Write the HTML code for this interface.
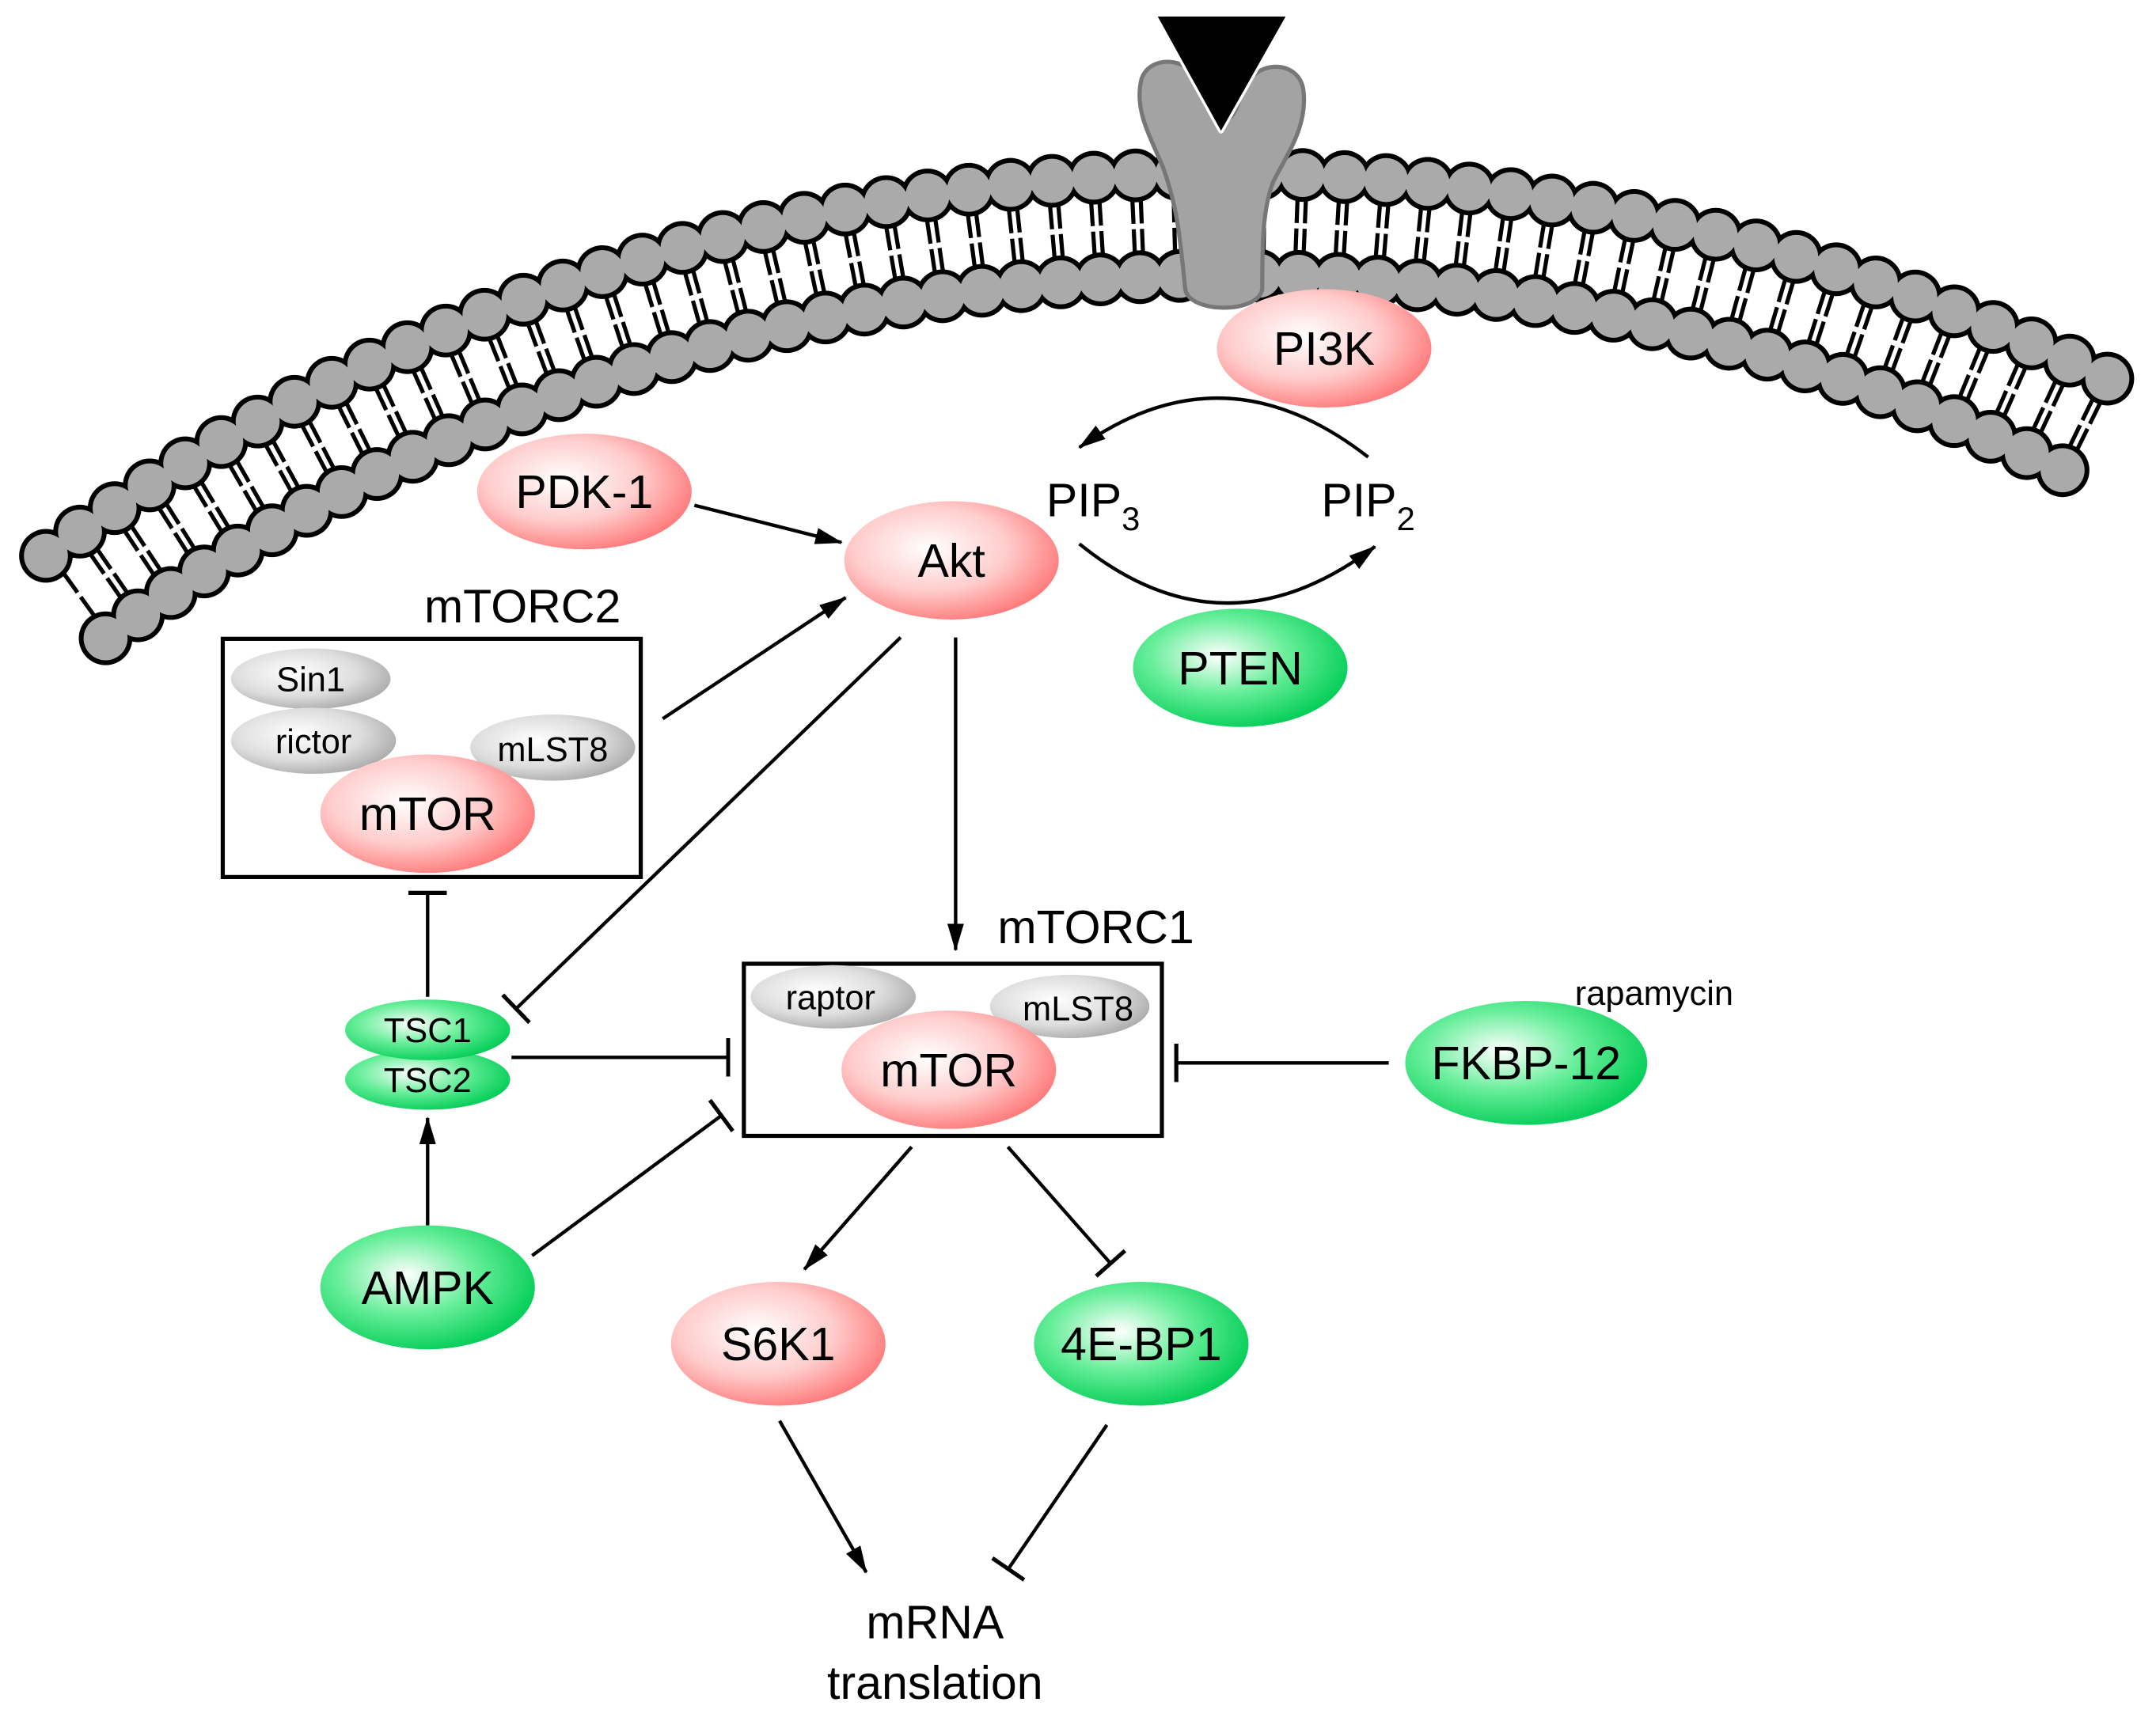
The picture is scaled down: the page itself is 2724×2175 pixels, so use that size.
<!DOCTYPE html>
<html><head><meta charset="utf-8"><style>html,body{margin:0;padding:0;background:#fff}svg{display:block}text{font-family:"Liberation Sans",Arial,sans-serif;fill:#000}</style></head>
<body>
<svg width="2724" height="2175" viewBox="0 0 1568 1250" preserveAspectRatio="none" xmlns="http://www.w3.org/2000/svg">
<defs>
<radialGradient id="rg" cx="0.4" cy="0.4" r="0.65"><stop offset="0" stop-color="#fff"/><stop offset="0.55" stop-color="#fcc"/><stop offset="1" stop-color="#f77"/></radialGradient>
<radialGradient id="gg" cx="0.4" cy="0.4" r="0.65"><stop offset="0" stop-color="#fff"/><stop offset="0.5" stop-color="#6e9"/><stop offset="1" stop-color="#0c5"/></radialGradient>
<radialGradient id="yg" cx="0.4" cy="0.4" r="0.65"><stop offset="0" stop-color="#fff"/><stop offset="0.6" stop-color="#ddd"/><stop offset="1" stop-color="#aaa"/></radialGradient>
<marker id="a" viewBox="0 0 20 12" refX="19" refY="6" markerWidth="20" markerHeight="12" markerUnits="userSpaceOnUse" orient="auto"><path d="M0,0 L20,6 L0,12 z" fill="#000"/></marker>
<marker id="b" viewBox="0 0 4 28" refX="2" refY="14" markerWidth="4" markerHeight="28" markerUnits="userSpaceOnUse" orient="auto"><rect x="0" y="0" width="3" height="28" fill="#000"/></marker>
</defs>
<!-- membrane -->
<g fill="none" transform="translate(0,6)">
<path d="M55.1,427.7 A1423,1423 0 0 1 1528.1,308.1" stroke="#000" stroke-width="42" stroke-dasharray="3 3 3 20.63" stroke-dashoffset="4.5"/>
<path d="M55.1,427.7 A1423,1423 0 0 1 1528.1,308.1" stroke="#fff" stroke-width="4"/>
<path d="M33.4,397.7 A1460,1460 0 0 1 1544.7,275" stroke="#000" stroke-width="39" stroke-linecap="round" stroke-dasharray="0 30.4"/>
<path d="M33.4,397.7 A1460,1460 0 0 1 1544.7,275" stroke="#aaa" stroke-width="32" stroke-linecap="round" stroke-dasharray="0 30.4"/>
<path d="M76.8,457.6 A1386,1386 0 0 1 1511.5,341.2" stroke="#000" stroke-width="39" stroke-linecap="round" stroke-dasharray="0 28.86"/>
<path d="M76.8,457.6 A1386,1386 0 0 1 1511.5,341.2" stroke="#aaa" stroke-width="32" stroke-linecap="round" stroke-dasharray="0 28.86"/>
</g>
<!-- receptor -->
<path d="M862,210 C858,170 856,150 846,122 C836,98 825,80 830,58 C836,38 870,40 878,70 C882,92 896,95 902,70 C910,42 945,42 948,66 C951,92 936,112 926,132 C918,152 918,180 918,210 C915,228 865,228 862,210 Z" fill="#a3a3a3" stroke="#777" stroke-width="3"/>
<path d="M842,12 L935,12 L888,95 Z" fill="#000" stroke="#fff" stroke-width="4" stroke-linejoin="round"/>
<path d="M842,12 L935,12 L888,95 Z" fill="#000"/>
<g stroke="#000" stroke-width="2.5" fill="none">
<line x1="505" y1="367" x2="612" y2="394" marker-end="url(#a)"/>
<line x1="482" y1="522" x2="615" y2="434" marker-end="url(#a)"/>
<line x1="695" y1="463" x2="695" y2="690" marker-end="url(#a)"/>
<line x1="655" y1="463" x2="375" y2="733" marker-end="url(#b)"/>
<line x1="311" y1="724" x2="311" y2="648" marker-end="url(#b)"/>
<line x1="372" y1="768" x2="530" y2="768" marker-end="url(#b)"/>
<line x1="311" y1="890" x2="311" y2="812" marker-end="url(#a)"/>
<line x1="387" y1="912" x2="525" y2="810" marker-end="url(#b)"/>
<line x1="1010" y1="772" x2="855" y2="772" marker-end="url(#b)"/>
<line x1="663" y1="833" x2="585" y2="922" marker-end="url(#a)"/>
<line x1="733" y1="833" x2="808" y2="918" marker-end="url(#b)"/>
<line x1="567" y1="1032" x2="630" y2="1142" marker-end="url(#a)"/>
<line x1="805" y1="1035" x2="733" y2="1140" marker-end="url(#b)"/>
<path d="M995,332 Q890,250 785,325" marker-end="url(#a)"/>
<path d="M785,395 Q890,480 1000,397" marker-end="url(#a)"/>
<rect x="162" y="464" width="304" height="173" stroke-width="3"/>
<rect x="541" y="700" width="304" height="125" stroke-width="3"/>
</g>
<g>
<ellipse cx="963" cy="253" rx="78" ry="43" fill="url(#rg)"/>
<ellipse cx="425" cy="357" rx="78" ry="42" fill="url(#rg)"/>
<ellipse cx="692" cy="407" rx="78" ry="43" fill="url(#rg)"/>
<ellipse cx="902" cy="485" rx="78" ry="43" fill="url(#gg)"/>
<ellipse cx="226" cy="493" rx="58" ry="22" fill="url(#yg)"/>
<ellipse cx="228" cy="538" rx="60" ry="24" fill="url(#yg)"/>
<ellipse cx="402" cy="543" rx="60" ry="24" fill="url(#yg)"/>
<ellipse cx="311" cy="591" rx="78" ry="43" fill="url(#rg)"/>
<ellipse cx="606" cy="724" rx="60" ry="23" fill="url(#yg)"/>
<ellipse cx="778" cy="731" rx="58" ry="23" fill="url(#yg)"/>
<ellipse cx="690" cy="777" rx="78" ry="43" fill="url(#rg)"/>
<ellipse cx="311" cy="784" rx="60" ry="22" fill="url(#gg)"/>
<ellipse cx="311" cy="748" rx="60" ry="22" fill="url(#gg)"/>
<ellipse cx="311" cy="935" rx="78" ry="45" fill="url(#gg)"/>
<ellipse cx="1110" cy="772" rx="88" ry="45" fill="url(#gg)"/>
<ellipse cx="566" cy="976" rx="78" ry="45" fill="url(#rg)"/>
<ellipse cx="830" cy="976" rx="78" ry="45" fill="url(#gg)"/>
</g>
<g font-size="34" text-anchor="middle">
<text x="963" y="265">PI3K</text>
<text x="425" y="369">PDK-1</text>
<text x="692" y="419">Akt</text>
<text x="902" y="497">PTEN</text>
<text x="311" y="603">mTOR</text>
<text x="690" y="789">mTOR</text>
<text x="311" y="947">AMPK</text>
<text x="1110" y="784">FKBP-12</text>
<text x="566" y="988">S6K1</text>
<text x="830" y="988">4E-BP1</text>
<text x="380" y="452">mTORC2</text>
<text x="797" y="685">mTORC1</text>
<text x="680" y="1190">mRNA</text>
<text x="680" y="1234">translation</text>
<text x="795" y="375">PIP<tspan font-size="24" dy="10">3</tspan></text>
<text x="995" y="375">PIP<tspan font-size="24" dy="10">2</tspan></text>
</g>
<g font-size="25" text-anchor="middle">
<text x="226" y="502">Sin1</text>
<text x="228" y="547">rictor</text>
<text x="402" y="553">mLST8</text>
<text x="604" y="733">raptor</text>
<text x="784" y="741">mLST8</text>
<text x="311" y="757">TSC1</text>
<text x="311" y="793">TSC2</text>
<text x="1203" y="730">rapamycin</text>
</g>
</svg>
</body></html>
